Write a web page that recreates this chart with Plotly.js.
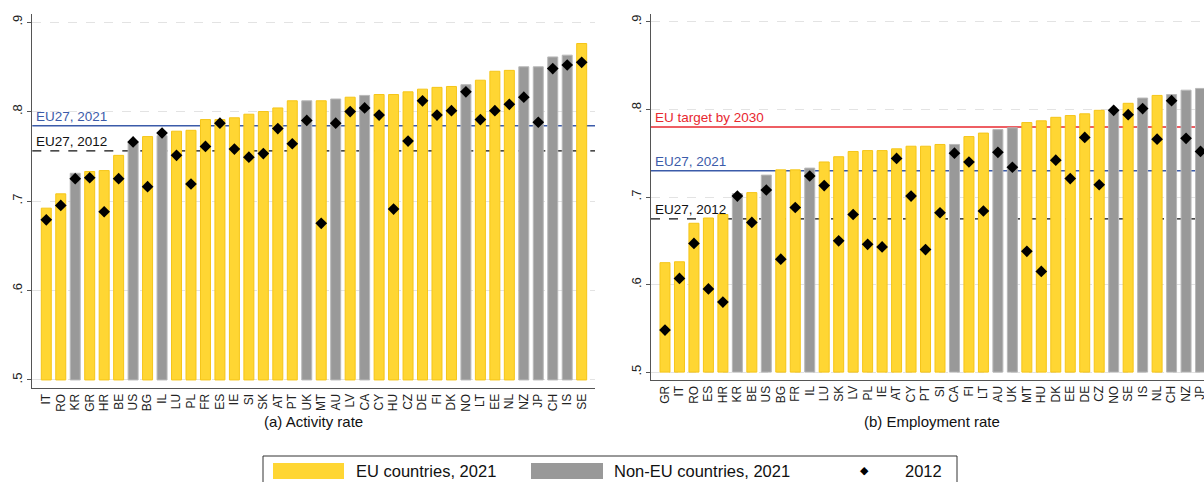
<!DOCTYPE html>
<html>
<head>
<meta charset="utf-8">
<script src="https://cdn.plot.ly/plotly-3.0.1.min.js"></script>
<style>html,body{margin:0;padding:0;background:#fff;}#chart{width:1204px;height:482px;}</style>
</head>
<body>
<div id="chart"></div>
<script>
// ---- Data ----
const actCountries = ['IT','RO','KR','GR','HR','BE','US','BG','IL','LU','PL','FR','ES','IE','SI','SK','AT','PT','UK','MT','AU','LV','CA','CY','HU','CZ','DE','FI','DK','NO','LT','EE','NL','NZ','JP','CH','IS','SE'];
const act2021 = [0.692,0.708,0.731,0.733,0.734,0.751,0.766,0.772,0.773,0.778,0.779,0.791,0.791,0.793,0.797,0.800,0.804,0.812,0.812,0.812,0.814,0.816,0.818,0.819,0.819,0.822,0.825,0.827,0.828,0.830,0.835,0.845,0.846,0.850,0.850,0.861,0.863,0.876];
const act2012 = [0.679,0.695,0.725,0.726,0.688,0.725,0.766,0.716,0.776,0.751,0.719,0.761,0.787,0.758,0.749,0.753,0.781,0.764,0.790,0.675,0.787,0.800,0.804,0.796,0.691,0.767,0.812,0.796,0.801,0.822,0.791,0.801,0.808,0.816,0.788,0.848,0.852,0.855];

const empCountries = ['GR','IT','RO','ES','HR','KR','BE','US','BG','FR','IL','LU','SK','LV','PL','IE','AT','CY','PT','SI','CA','FI','LT','AU','UK','MT','HU','DK','EE','DE','CZ','NO','SE','IS','NL','CH','NZ','JP'];
const emp2021 = [0.625,0.626,0.670,0.676,0.680,0.704,0.705,0.725,0.731,0.731,0.733,0.740,0.746,0.752,0.753,0.753,0.755,0.758,0.758,0.760,0.760,0.769,0.773,0.777,0.779,0.785,0.787,0.791,0.793,0.795,0.799,0.799,0.807,0.813,0.816,0.817,0.822,0.824];
const emp2012 = [0.548,0.607,0.647,0.595,0.580,0.701,0.671,0.708,0.629,0.688,0.724,0.713,0.650,0.680,0.646,0.643,0.744,0.701,0.640,0.682,0.750,0.740,0.684,0.751,0.734,0.638,0.615,0.742,0.721,0.768,0.714,0.799,0.794,0.801,0.766,0.810,0.767,0.752];

const nonEU = ['KR','US','IL','UK','AU','CA','NO','NZ','JP','CH','IS'];

const actRefs = {eu2021: 0.784, eu2012: 0.756};
const empRefs = {target: 0.780, eu2021: 0.730, eu2012: 0.675};

const yTickVals = [0.5,0.6,0.7,0.8,0.9];
const yTickText = ['.5','.6','.7','.8','.9'];

const legendLabels = ['EU countries, 2021','Non-EU countries, 2021','2012'];
const panelTitles = ['(a) Activity rate','(b) Employment rate'];

// ---- Styling ----
const YELLOW = '#FFD633', YELLOW_LINE = '#F5C518';
const GRAY = '#999999', GRAY_LINE = '#B8B8B8';
const BLUE = '#3B5BA9', RED = '#E8282F';
const FONT = 'Liberation Sans, Arial, Helvetica, sans-serif';
const W = 1204, H = 482;
const BASE = 0.5;

function barTraces(countries, vals, xa, ya) {
  const eu = {x: [], y: []}, ne = {x: [], y: []};
  countries.forEach((c, i) => {
    const t = nonEU.includes(c) ? ne : eu;
    t.x.push(c); t.y.push(vals[i] - BASE);
  });
  const common = {type: 'bar', base: BASE, width: 0.69, xaxis: xa, yaxis: ya, showlegend: false, hoverinfo: 'x'};
  return [
    Object.assign({}, common, {x: eu.x, y: eu.y, name: legendLabels[0], marker: {color: YELLOW, line: {color: YELLOW_LINE, width: 1}}}),
    Object.assign({}, common, {x: ne.x, y: ne.y, name: legendLabels[1], marker: {color: GRAY, line: {color: GRAY_LINE, width: 1}}})
  ];
}
function dotTrace(countries, vals, xa, ya) {
  return {type: 'scatter', mode: 'markers', x: countries, y: vals, xaxis: xa, yaxis: ya, name: legendLabels[2], showlegend: false,
    marker: {symbol: 'diamond', size: 9, color: '#000'}};
}

const data = [
  ...barTraces(actCountries, act2021, 'x', 'y'),
  dotTrace(actCountries, act2012, 'x', 'y'),
  ...barTraces(empCountries, emp2021, 'x2', 'y2'),
  dotTrace(empCountries, emp2012, 'x2', 'y2')
];

function px(x) { return x / W; }
function py(y) { return 1 - y / H; }

const xCommon = {type: 'category', showline: true, linecolor: '#555', linewidth: 1, ticks: '', showgrid: false, zeroline: false,
  tickangle: -90, tickfont: {family: FONT, size: 12, color: '#222'}, fixedrange: true};
const yCommon = {range: [0.491, 0.909], tickvals: yTickVals, ticktext: yTickText, tickangle: -90, ticks: 'outside', ticklen: 4,
  tickcolor: '#555', showline: true, linecolor: '#555', linewidth: 1, showgrid: true, gridcolor: '#E3E3E3', griddash: 'dash',
  gridwidth: 1, zeroline: false, tickfont: {family: FONT, size: 13, color: '#222'}, fixedrange: true};

const leftX0 = 32.3, leftX1 = 595, rightX0 = 651, rightX1 = 1204;

const layout = {
  width: W, height: H, margin: {l: 0, r: 0, t: 0, b: 0}, paper_bgcolor: '#fff', plot_bgcolor: '#fff',
  barmode: 'overlay', showlegend: false, font: {family: FONT, color: '#222'},
  xaxis: Object.assign({}, xCommon, {domain: [px(leftX0), px(leftX1)], anchor: 'y', categoryorder: 'array', categoryarray: actCountries, range: [-0.967, 37.92]}),
  yaxis: Object.assign({}, yCommon, {domain: [py(388), py(14)], anchor: 'x'}),
  xaxis2: Object.assign({}, xCommon, {domain: [px(rightX0), px(rightX1)], anchor: 'y2', categoryorder: 'array', categoryarray: empCountries, range: [-0.967, 37.24]}),
  yaxis2: Object.assign({}, yCommon, {domain: [py(380), py(14)], anchor: 'x2'}),
  shapes: [
    {type: 'line', xref: 'x domain', yref: 'y', x0: 0, x1: 1, y0: actRefs.eu2021, y1: actRefs.eu2021, layer: 'below', line: {color: BLUE, width: 1.5}},
    {type: 'line', xref: 'x domain', yref: 'y', x0: 0, x1: 1, y0: actRefs.eu2012, y1: actRefs.eu2012, layer: 'below', line: {color: '#111', width: 1.3, dash: 'dash'}},
    {type: 'line', xref: 'x2 domain', yref: 'y2', x0: 0, x1: 1, y0: empRefs.target, y1: empRefs.target, layer: 'below', line: {color: RED, width: 1.5}},
    {type: 'line', xref: 'x2 domain', yref: 'y2', x0: 0, x1: 1, y0: empRefs.eu2021, y1: empRefs.eu2021, layer: 'below', line: {color: BLUE, width: 1.5}},
    {type: 'line', xref: 'x2 domain', yref: 'y2', x0: 0, x1: 1, y0: empRefs.eu2012, y1: empRefs.eu2012, layer: 'below', line: {color: '#111', width: 1.3, dash: 'dash'}},
    // legend box and swatches
    {type: 'rect', xref: 'paper', yref: 'paper', x0: px(263), x1: px(957), y0: py(485), y1: py(456), line: {color: '#333', width: 1}, fillcolor: 'rgba(0,0,0,0)'},
    {type: 'rect', xref: 'paper', yref: 'paper', x0: px(273), x1: px(344), y0: py(479), y1: py(463), line: {width: 0}, fillcolor: YELLOW},
    {type: 'rect', xref: 'paper', yref: 'paper', x0: px(531), x1: px(603), y0: py(479), y1: py(463), line: {width: 0}, fillcolor: GRAY}
  ],
  annotations: [
    {xref: 'paper', yref: 'y', x: px(leftX0 + 2), y: actRefs.eu2021, text: 'EU27, 2021', showarrow: false, xanchor: 'left', yanchor: 'bottom', font: {family: FONT, size: 13.5, color: BLUE}},
    {xref: 'paper', yref: 'y', x: px(leftX0 + 2), y: actRefs.eu2012, text: 'EU27, 2012', showarrow: false, xanchor: 'left', yanchor: 'bottom', font: {family: FONT, size: 13.5, color: '#111'}},
    {xref: 'paper', yref: 'y2', x: px(rightX0 + 2), y: empRefs.target, text: 'EU target by 2030', showarrow: false, xanchor: 'left', yanchor: 'bottom', font: {family: FONT, size: 13.5, color: RED}},
    {xref: 'paper', yref: 'y2', x: px(rightX0 + 2), y: empRefs.eu2021, text: 'EU27, 2021', showarrow: false, xanchor: 'left', yanchor: 'bottom', font: {family: FONT, size: 13.5, color: BLUE}},
    {xref: 'paper', yref: 'y2', x: px(rightX0 + 2), y: empRefs.eu2012, text: 'EU27, 2012', showarrow: false, xanchor: 'left', yanchor: 'bottom', font: {family: FONT, size: 13.5, color: '#111'}},
    {xref: 'paper', yref: 'paper', x: px(313.5), y: py(421), text: panelTitles[0], showarrow: false, xanchor: 'center', yanchor: 'middle', font: {family: FONT, size: 15, color: '#111'}},
    {xref: 'paper', yref: 'paper', x: px(932), y: py(421), text: panelTitles[1], showarrow: false, xanchor: 'center', yanchor: 'middle', font: {family: FONT, size: 15, color: '#111'}},
    {xref: 'paper', yref: 'paper', x: px(354), y: py(470.5), text: legendLabels[0], showarrow: false, xanchor: 'left', yanchor: 'middle', font: {family: FONT, size: 16.5, color: '#111'}},
    {xref: 'paper', yref: 'paper', x: px(612), y: py(470.5), text: legendLabels[1], showarrow: false, xanchor: 'left', yanchor: 'middle', font: {family: FONT, size: 16.5, color: '#111'}},
    {xref: 'paper', yref: 'paper', x: px(864), y: py(470.5), text: '◆', showarrow: false, xanchor: 'center', yanchor: 'middle', font: {family: 'DejaVu Sans', size: 11, color: '#000'}},
    {xref: 'paper', yref: 'paper', x: px(944), y: py(470.5), text: legendLabels[2], showarrow: false, xanchor: 'right', yanchor: 'middle', font: {family: FONT, size: 16.5, color: '#111'}}
  ]
};

Plotly.newPlot('chart', data, layout, {displayModeBar: false, staticPlot: true});
</script>
</body>
</html>
